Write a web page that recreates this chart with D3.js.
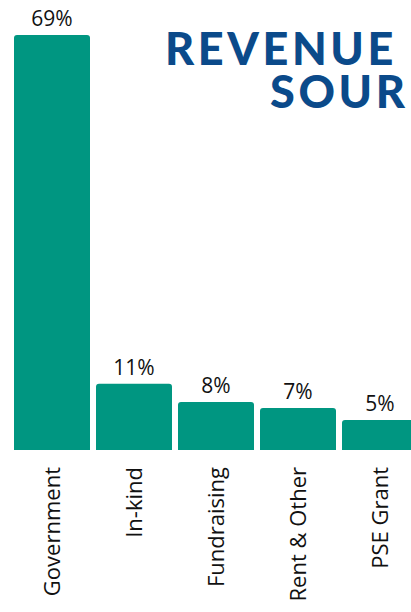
<!DOCTYPE html>
<html><head><meta charset="utf-8">
<script src="https://cdn.jsdelivr.net/npm/d3@7/dist/d3.min.js"></script>
<style>html,body{margin:0;padding:0;background:#fff;overflow:hidden}</style>
</head><body>
<svg id="c" width="411" height="612"></svg>
<script>
const categories = ["Government","In-kind","Fundraising","Rent & Other","PSE Grant"];
const values = [69, 11, 8, 7, 5];
const valueLabels = ["69%","11%","8%","7%","5%"];
const titleLines = ["REVENUE","SOUR"];

const svg = d3.select("#c");
const baseY = 450, topY = 35;
const x = d3.scaleBand().domain(categories).range([11, 421]).paddingInner(6/82).paddingOuter(3/82);
const y = d3.scaleLinear().domain([0, 69]).range([baseY, topY]);

const r = 3;
function barPath(x0, w, yt, yb){
  return `M${x0},${yb}V${yt+r}Q${x0},${yt} ${x0+r},${yt}H${x0+w-r}Q${x0+w},${yt} ${x0+w},${yt+r}V${yb}Z`;
}
svg.append("g").selectAll("path").data(values).join("path")
  .attr("d",(d,i)=>barPath(x(categories[i]), x.bandwidth(), y(d), y(0)))
  .attr("fill","#009681");

svg.append("g").selectAll("text").data(values).join("text")
  .attr("x",(d,i)=>x(categories[i])+x.bandwidth()/2)
  .attr("y",d=>y(d)-9)
  .attr("text-anchor","middle")
  .attr("font-family","'Open Sans', 'Noto Sans', sans-serif")
  .attr("font-size",21).attr("fill","#111")
  .text((d,i)=>valueLabels[i]);

svg.append("g").selectAll("text").data(categories).join("text")
  .attr("transform",d=>`translate(${x(d)+x.bandwidth()/2+8},467) rotate(-90)`)
  .attr("text-anchor","end")
  .attr("font-family","'Open Sans', 'Noto Sans', sans-serif")
  .attr("font-size",22).attr("fill","#111")
  .text(d=>d);

const t = svg.append("text").attr("font-family","Lato, 'DejaVu Sans', sans-serif")
  .attr("font-weight",900).attr("font-size",45).attr("fill","#0b4a8a")
  .attr("letter-spacing",3.6);
t.append("tspan").attr("x",165).attr("y",65).text(titleLines[0]);
t.append("tspan").attr("x",270).attr("y",108).text(titleLines[1]);
</script>
</body></html>
